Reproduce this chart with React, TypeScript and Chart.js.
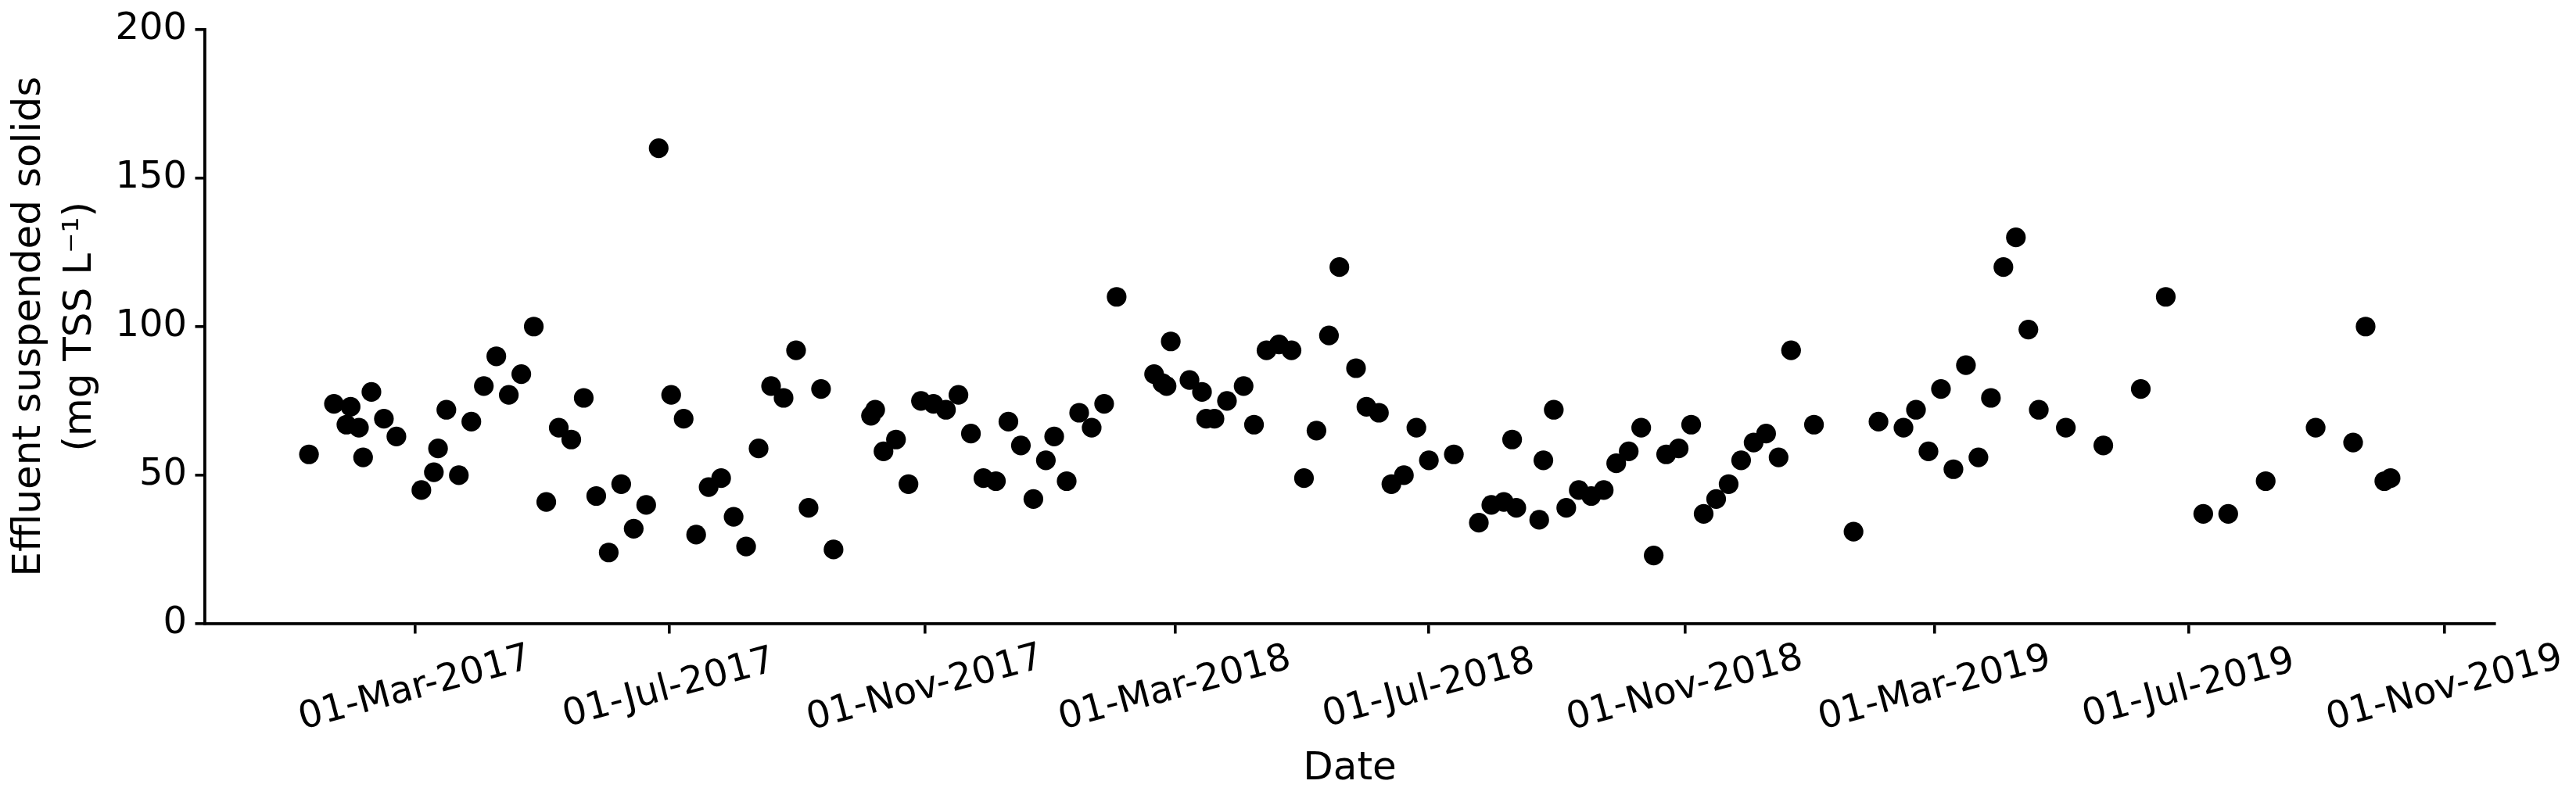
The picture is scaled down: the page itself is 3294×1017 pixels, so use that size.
import React, { useEffect, useRef } from 'react';
import { Chart, registerables, LinearScale } from 'chart.js';

// ---- Data ----
const SAMPLE_DATES: string[] = [
  '2017-01-09', '2017-01-21', '2017-01-27', '2017-01-29', '2017-02-02', '2017-02-04', '2017-02-08', '2017-02-14', '2017-02-20',
  '2017-03-04', '2017-03-10', '2017-03-12', '2017-03-16', '2017-03-22', '2017-03-28', '2017-04-03', '2017-04-09', '2017-04-15',
  '2017-04-21', '2017-04-27', '2017-05-03', '2017-05-09', '2017-05-15', '2017-05-21', '2017-05-27', '2017-06-02', '2017-06-08',
  '2017-06-14', '2017-06-20', '2017-06-26', '2017-07-02', '2017-07-08', '2017-07-14', '2017-07-20', '2017-07-26', '2017-08-01',
  '2017-08-07', '2017-08-13', '2017-08-19', '2017-08-25', '2017-08-31', '2017-09-06', '2017-09-12', '2017-09-18', '2017-10-06',
  '2017-10-08', '2017-10-12', '2017-10-18', '2017-10-24', '2017-10-30', '2017-11-05', '2017-11-11', '2017-11-17', '2017-11-23',
  '2017-11-29', '2017-12-05', '2017-12-11', '2017-12-17', '2017-12-23', '2017-12-29', '2018-01-02', '2018-01-08', '2018-01-14',
  '2018-01-20', '2018-01-26', '2018-02-01', '2018-02-19', '2018-02-23', '2018-02-25', '2018-02-27', '2018-03-08', '2018-03-14',
  '2018-03-16', '2018-03-20', '2018-03-26', '2018-04-03', '2018-04-08', '2018-04-14', '2018-04-20', '2018-04-26', '2018-05-02',
  '2018-05-08', '2018-05-14', '2018-05-19', '2018-05-27', '2018-06-01', '2018-06-07', '2018-06-13', '2018-06-19', '2018-06-25',
  '2018-07-01', '2018-07-13', '2018-07-25', '2018-07-31', '2018-08-06', '2018-08-10', '2018-08-12', '2018-08-23', '2018-08-25',
  '2018-08-30', '2018-09-05', '2018-09-11', '2018-09-17', '2018-09-23', '2018-09-29', '2018-10-05', '2018-10-11', '2018-10-17',
  '2018-10-23', '2018-10-29', '2018-11-04', '2018-11-10', '2018-11-16', '2018-11-22', '2018-11-28', '2018-12-04', '2018-12-10',
  '2018-12-16', '2018-12-22', '2019-01-02', '2019-01-21', '2019-02-02', '2019-02-14', '2019-02-20', '2019-02-26', '2019-03-04',
  '2019-03-10', '2019-03-16', '2019-03-22', '2019-03-28', '2019-04-03', '2019-04-09', '2019-04-15', '2019-04-20', '2019-05-03',
  '2019-05-21', '2019-06-08', '2019-06-20', '2019-07-08', '2019-07-20', '2019-08-07', '2019-08-31', '2019-09-18', '2019-09-24',
  '2019-10-03', '2019-10-06',
];

const TSS_VALUES: number[] = [
  57, 74, 67, 73, 66, 56, 78, 69, 63,
  45, 51, 59, 72, 50, 68, 80, 90, 77,
  84, 100, 41, 66, 62, 76, 43, 24, 47,
  32, 40, 160, 77, 69, 30, 46, 49, 36,
  26, 59, 80, 76, 92, 39, 79, 25, 70,
  72, 58, 62, 47, 75, 74, 72, 77, 64,
  49, 48, 68, 60, 42, 55, 63, 48, 71,
  66, 74, 110, 84, 81, 80, 95, 82, 78,
  69, 69, 75, 80, 67, 92, 94, 92, 49,
  65, 97, 120, 86, 73, 71, 47, 50, 66,
  55, 57, 34, 40, 41, 62, 39, 35, 55,
  72, 39, 45, 43, 45, 54, 58, 66, 23,
  57, 59, 67, 37, 42, 47, 55, 61, 64,
  56, 92, 67, 31, 68, 66, 72, 58, 79,
  52, 87, 56, 76, 120, 130, 99, 72, 66,
  60, 79, 110, 37, 37, 48, 66, 61, 100,
  48, 49,
];

const X_TICK_DATES: string[] = [
  '2017-03-01', '2017-07-01', '2017-11-01', '2018-03-01', '2018-07-01',
  '2018-11-01', '2019-03-01', '2019-07-01', '2019-11-01',
];
const X_TICK_LABELS: string[] = [
  '01-Mar-2017', '01-Jul-2017', '01-Nov-2017', '01-Mar-2018', '01-Jul-2018',
  '01-Nov-2018', '01-Mar-2019', '01-Jul-2019', '01-Nov-2019',
];
const Y_MIN = 0;
const Y_MAX = 200;
const Y_STEP = 50;
const X_TITLE = 'Date';
const Y_TITLE: string[] = ['Effluent suspended solids', '(mg TSS L\u207B\u00B9)'];

// Linear scale whose rotated bottom labels are centred under their ticks
class CenteredLinearScale extends LinearScale {
  static id = 'centeredLinear';
  static defaults = LinearScale.defaults;
  _getXAxisLabelAlignment() {
    return 'center';
  }
}

Chart.register(...registerables, CenteredLinearScale);

const FONT_FAMILY = "'DejaVu Sans', 'Liberation Sans', sans-serif";
const W = 3294;
const H = 1017;

export default function App() {
  const canvasRef = useRef<HTMLCanvasElement | null>(null);

  useEffect(() => {
    const canvas = canvasRef.current;
    if (!canvas) return;

    const times = SAMPLE_DATES.map((d) => Date.parse(d));
    const tMin = Math.min(...times);
    const tMax = Math.max(...times);
    const margin = (tMax - tMin) * 0.05;

    const points = times.map((t, i) => ({ x: t, y: TSS_VALUES[i] }));

    const gridOpts = {
      display: true,
      drawOnChartArea: false,
      drawTicks: true,
      tickLength: 12.5,
      tickWidth: 3.6,
      tickColor: '#000',
      color: '#000',
      lineWidth: 3.6,
    };
    const borderOpts = { display: true, color: '#000', width: 3.8 };
    const tickFont = { family: FONT_FAMILY, size: 48 };

    const chart = new Chart(canvas, {
      type: 'scatter',
      data: {
        datasets: [
          {
            data: points,
            backgroundColor: '#000',
            borderColor: '#000',
            borderWidth: 0,
            pointRadius: 12.6,
            pointHoverRadius: 12.6,
            pointBorderWidth: 0,
          },
        ],
      },
      options: {
        animation: false,
        responsive: false,
        devicePixelRatio: 1,
        events: [],
        layout: { padding: { top: 37.5, right: 104, bottom: 0, left: 0 } },
        plugins: {
          legend: { display: false },
          tooltip: { enabled: false },
        },
        scales: {
          x: {
            type: 'centeredLinear' as any,
            position: 'bottom',
            min: tMin - margin,
            max: tMax + margin,
            afterBuildTicks: (scale: any) => {
              scale.ticks = X_TICK_DATES.map((d) => ({ value: Date.parse(d) }));
            },
            afterFit: (scale: any) => {
              scale.height = H - 798;
              scale.paddingLeft = 0;
              scale.paddingRight = 0;
            },
            grid: gridOpts,
            border: borderOpts,
            ticks: {
              autoSkip: false,
              minRotation: 15,
              maxRotation: 15,
              padding: 43,
              color: '#000',
              font: tickFont,
              callback: (_v: any, i: number) => X_TICK_LABELS[i],
            },
            title: {
              display: true,
              text: X_TITLE,
              color: '#000',
              font: { family: FONT_FAMILY, size: 50, lineHeight: 1.2 },
              padding: { top: 0, bottom: 3 },
            },
          },
          y: {
            type: 'linear',
            position: 'left',
            min: Y_MIN,
            max: Y_MAX,
            afterFit: (scale: any) => {
              scale.width = 262;
              scale.paddingTop = 0;
              scale.paddingBottom = 0;
            },
            grid: gridOpts,
            border: borderOpts,
            ticks: {
              stepSize: Y_STEP,
              padding: 10.5,
              color: '#000',
              font: tickFont,
            },
            title: {
              display: true,
              text: Y_TITLE,
              color: '#000',
              font: { family: FONT_FAMILY, size: 50, lineHeight: 1.292 },
              padding: { top: 5.7, bottom: 0 },
            },
          },
        },
      } as any,
    });

    return () => {
      chart.destroy();
    };
  }, []);

  return (
    <div style={{ position: 'absolute', left: 0, top: 0, width: W, height: H, background: '#fff' }}>
      <canvas ref={canvasRef} width={W} height={H} style={{ display: 'block', width: W, height: H }} />
    </div>
  );
}
